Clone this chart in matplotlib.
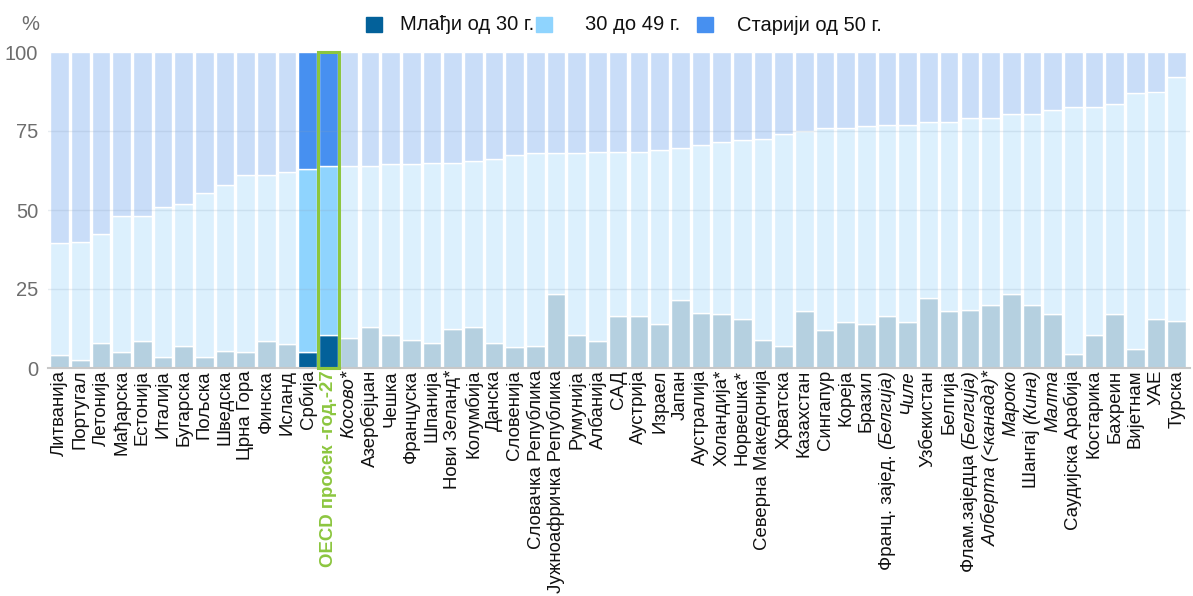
import numpy as np
import matplotlib
matplotlib.use('Agg')
import matplotlib.pyplot as plt
from matplotlib import font_manager
from matplotlib.patches import Rectangle

# Podaci (procenat po starosnim grupama)
zemlje = ['Литванија', 'Португал', 'Летонија', 'Мађарска', 'Естонија', 'Италија', 'Бугарска',
          'Пољска', 'Шведска', 'Црна Гора', 'Финска', 'Исланд', 'Србија', 'OECD просек -год.-27',
          'Косово*', 'Азербејџан', 'Чешка', 'Француска', 'Шпанија', 'Нови Зеланд*', 'Колумбија',
          'Данска', 'Словенија', 'Словачка Република', 'Јужноафричка Република', 'Румунија',
          'Албанија', 'САД', 'Аустрија', 'Израел', 'Јапан', 'Аустралија', 'Холандија*', 'Норвешка*',
          'Северна Македонија', 'Хрватска', 'Казахстан', 'Сингапур', 'Кореја', 'Бразил',
          'Франц. заjeд. (Белгија)', 'Чиле', 'Узбекистан', 'Белгија', 'Флам.заједца (Белгија)',
          'Алберта (<канада)*', 'Мароко', 'Шангај (Кина)', 'Малта', 'Саудијска Арабија',
          'Костарика', 'Бахреин', 'Вијетнам', 'УАЕ', 'Турска']

mladji = [4.1, 2.5, 8, 5, 8.5, 3.5, 7, 3.5, 5.5, 5, 8.5, 7.5, 5, 10.5,
          9.5, 13, 10.5, 9, 8, 12.5, 13, 8, 6.5, 7, 23.5, 10.5, 8.5, 16.5, 16.5, 14,
          21.5, 17.5, 17, 15.5, 9, 7, 18, 12, 14.5, 14, 16.5, 14.5, 22, 18, 18.5, 20,
          23.5, 20, 17, 4.5, 10.5, 17, 6, 15.5, 15]
# kumulativno (mladji + 30-49)
do_49 = [39.5, 40, 42.5, 48, 48, 51, 52, 55.5, 58, 61, 61, 62, 63, 64,
         64, 64, 64.5, 64.5, 65, 65, 65.5, 66, 67.5, 68, 68, 68, 68.5, 68.5, 68.5, 69,
         69.5, 70.5, 71.5, 72, 72.5, 74, 75, 76, 76, 76.5, 77, 77, 78, 78, 79, 79,
         80.5, 80.5, 81.5, 82.5, 82.5, 83.5, 87, 87.5, 92]

srednji = [b - a for a, b in zip(mladji, do_49)]
stariji = [100 - b for b in do_49]

legenda = ['Млађи од 30 г.', '30 до 49 г.', 'Старији од 50 г.']
istaknuto = ['Србија', 'OECD просек -год.-27']
kurziv = ['Косово*', 'Чиле', 'Алберта (<канада)*', 'Мароко', 'Малта']
delimicno = {'Франц. заjeд. (Белгија)': ('Франц. заjeд. ', '(Белгија)'),
             'Флам.заједца (Белгија)': ('Флам.заједца ', '(Белгија)'),
             'Шангај (Кина)': ('Шангај ', '(Кина)')}

# font
imena = {f.name for f in font_manager.fontManager.ttflist}
font = 'Liberation Sans Narrow' if 'Liberation Sans Narrow' in imena else 'Liberation Sans'
plt.rcParams['font.family'] = [font, 'DejaVu Sans']

boje_jake = ['#03619a', '#8fd4fe', '#4790f0']
boje_slabe = ['#b5d0e0', '#dcf0fd', '#c9ddf8']

W, H = 1193, 596
fig = plt.figure(figsize=(W / 100, H / 100), dpi=100)
ax = fig.add_axes([48 / W, 1 - 368 / H, (1190 - 48) / W, 316 / H])

for i, z in enumerate(zemlje):
    boje = boje_jake if z in istaknuto else boje_slabe
    ax.bar(i, mladji[i], width=0.9, color=boje[0], edgecolor='white', linewidth=1.0)
    ax.bar(i, srednji[i], bottom=mladji[i], width=0.9, color=boje[1], edgecolor='white', linewidth=1.0)
    ax.bar(i, stariji[i], bottom=do_49[i], width=0.9, color=boje[2], edgecolor='white', linewidth=1.0)

# zeleni okvir za OECD
oi = zemlje.index('OECD просек -год.-27')
ax.bar(oi, 100, width=0.98, fill=False, edgecolor='#8cc63f', linewidth=2.2, zorder=5, clip_on=False)

for g in [25, 50, 75]:
    ax.axhline(g, color='#8aa0b8', alpha=0.2, linewidth=1, zorder=4)

ax.set_xlim(-0.556, 54.64)
ax.set_ylim(0, 100)
ax.set_yticks([0, 25, 50, 75, 100])
ax.tick_params(axis='y', length=0, labelsize=14.5, labelcolor='#6d6d6d', pad=7)
ax.set_xticks([])
for s in ['top', 'right', 'left']:
    ax.spines[s].set_visible(False)
ax.spines['bottom'].set_color('#c8c8c8')
ax.spines['bottom'].set_linewidth(1.5)
fig.text(30 / W, 1 - 24 / H, '%', fontsize=14.5, color='#6d6d6d', ha='center', va='center')

# oznake zemalja
trans = ax.get_xaxis_transform()
fs = 13.4
for i, z in enumerate(zemlje):
    if z in delimicno:
        prvi, drugi = delimicno[z]
        t = ax.text(i, -0.006, drugi, transform=trans, rotation=90, ha='center', va='top',
                    fontsize=fs, style='italic', color='#111111')
        ax.annotate(prvi, xy=(0.5, 0), xycoords=t, rotation=90, ha='center', va='top',
                    fontsize=fs, color='#111111')
    elif z == 'OECD просек -год.-27':
        ax.text(i, -0.006, z, transform=trans, rotation=90, ha='center', va='top',
                fontsize=fs, color='#8cc63f', fontweight='bold')
    else:
        ax.text(i, -0.006, z, transform=trans, rotation=90, ha='center', va='top',
                fontsize=fs, color='#111111', style='italic' if z in kurziv else 'normal')

# legenda
kvadrati = [366, 536, 697]
tekstovi = [400, 585, 737]
for kx, tx, c, l in zip(kvadrati, tekstovi, boje_jake, legenda):
    fig.patches.append(Rectangle((kx / W, 1 - 32 / H), 16 / W, 15 / H, color=c,
                                 transform=fig.transFigure, figure=fig))
    fig.text(tx / W, 1 - 25 / H, l, fontsize=14.5, color='#111111', ha='left', va='center')

plt.savefig('out.png', dpi=100)
